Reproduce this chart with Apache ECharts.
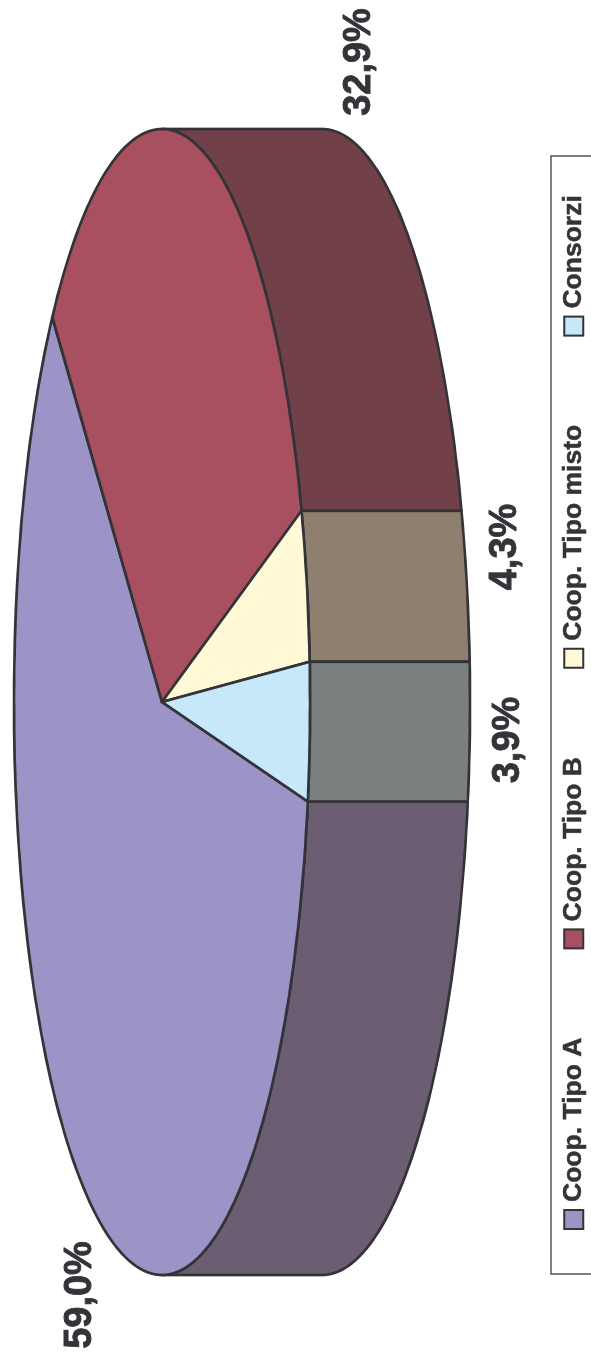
<!DOCTYPE html>
<html><head><meta charset="utf-8">
<style>html,body{margin:0;padding:0;background:#fff;width:591px;height:1361px;overflow:hidden}
#c{position:absolute;left:0;top:0;width:1361px;height:591px;transform-origin:0 0;transform:translate(0,1361px) rotate(-90deg)}</style>
<script src="https://cdn.jsdelivr.net/npm/echarts@6/dist/echarts.min.js"></script>
</head><body><div id="c"></div>
<script>
const categories = ['Coop. Tipo A','Coop. Tipo B','Coop. Tipo misto','Consorzi'];
const values = [59.0, 32.9, 4.3, 3.9];
const valueLabels = ['59,0%','32,9%','4,3%','3,9%'];
const topColors = ['#9C94C7','#A8505F','#FFF9D6','#C6E8F9'];
const sideColors = ['#6B5E72','#724048','#8F7F6E','#7A7F80'];
const labelCenters = [[66,81],[1299,360],[814,506],[621,509]];

const cx=659, cy=162, rx=573, ry=148, depth=160, startDeg=100;
const edge='#333338';
const total=values.reduce((a,b)=>a+b,0);
const pt=(deg,dy)=>{const r=deg*Math.PI/180;return [cx+rx*Math.cos(r),cy+ry*Math.sin(r)+(dy||0)];};
function arc(a,b,dy){const n=Math.max(2,Math.ceil(Math.abs(b-a)/1.5));const o=[];for(let i=0;i<=n;i++)o.push(pt(a+(b-a)*i/n,dy));return o;}
let acc=startDeg;
const spans=values.map(v=>{const s=acc;acc+=v/total*360;return [s,acc];});

const series=categories.map((name,i)=>({
  name,type:'custom',coordinateSystem:'none',silent:true,animation:false,
  itemStyle:{color:topColors[i],borderColor:edge,borderWidth:2},
  data:[values[i]],z:2,
  renderItem(){
    const [s,e]=spans[i],children=[];
    for(const k of [0,360]){
      const lo=Math.max(s,k),hi=Math.min(e,k+180);
      if(hi>lo){
        children.push({type:'polygon',shape:{points:arc(lo,hi,0).concat(arc(hi,lo,depth))},
          style:{fill:sideColors[i],stroke:edge,lineWidth:2.7,lineJoin:'round'}});
      }
    }
    children.push({type:'polygon',shape:{points:[[cx,cy]].concat(arc(s,e,0))},
      style:{fill:topColors[i],stroke:edge,lineWidth:2.7,lineJoin:'round'}});
    children.push({type:'text',x:labelCenters[i][0],y:labelCenters[i][1],
      style:{text:valueLabels[i],fill:'#333338',stroke:'#333338',lineWidth:0.8,font:'bold 38px "Liberation Sans"',align:'center',verticalAlign:'middle'}});
    return {type:'group',children};
  }
}));

const chart=echarts.init(document.getElementById('c'),null,{width:1361,height:591});
chart.setOption({
  animation:false,backgroundColor:'#fff',
  legend:{data:categories,left:87,top:551,orient:'horizontal',icon:'rect',itemWidth:19,itemHeight:19,itemGap:88,
    padding:[9,39,40,44],borderColor:'#555',borderWidth:1.5,
    itemStyle:{borderColor:'#333338',borderWidth:2},
    textStyle:{fontFamily:'Liberation Sans',fontWeight:'bold',fontSize:26.5,color:'#333338',padding:[0,0,0,3],textBorderColor:'#333338',textBorderWidth:0.5}},
  series
});
</script></body></html>
